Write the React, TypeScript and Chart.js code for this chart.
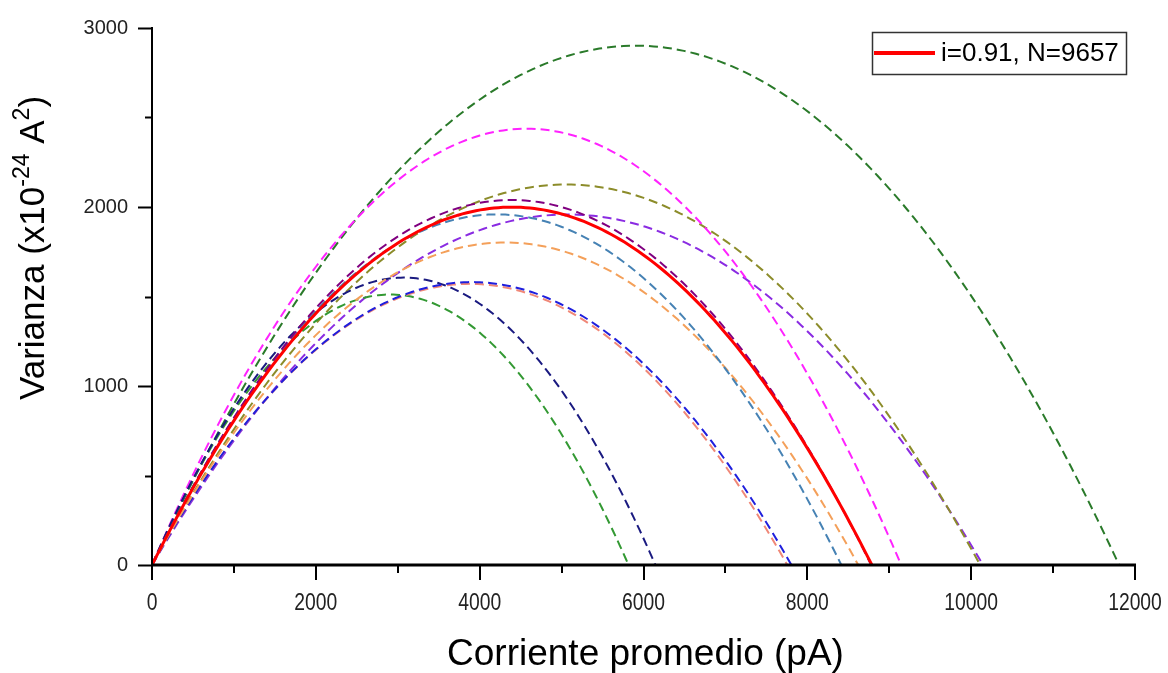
import React, { useEffect, useRef } from "react";
import { Chart, registerables } from "chart.js";

Chart.register(...registerables);

const FONT = '"Liberation Sans", Arial, sans-serif';

// Fitted variance–mean parabolas: var = i·I − I²/N
// i = single-channel current (pA), N = number of channels
const unitCurrents = [0.91, 0.929, 0.931, 0.836, 0.81, 0.81, 1.045, 1.039, 1.066, 0.841, 0.772, 0.983];
const channelCounts = [9657, 9451, 9039, 10313, 9636, 9575, 5881, 5599, 8580, 12021, 13142, 12010];
const seriesColors = [
  "#ff0000",
  "#800080",
  "#4682b4",
  "#f4a05a",
  "#1f1fdd",
  "#f08878",
  "#1a1a80",
  "#339933",
  "#ff22ff",
  "#8c8c2a",
  "#8a2be2",
  "#2a7a2a",
];
const xTickValues = [0, 2000, 4000, 6000, 8000, 10000, 12000];
const yTickValues = [0, 1000, 2000, 3000];
const xMinorStep = 1000;
const yMinorStep = 500;
const xTitle = "Corriente promedio (pA)";

function curvePoints(i: number, n: number) {
  const root = i * n;
  const steps = 160;
  const pts: { x: number; y: number }[] = [];
  for (let k = 0; k <= steps; k++) {
    const cur = (root * k) / steps;
    pts.push({ x: cur, y: Math.max(0, i * cur - (cur * cur) / n) });
  }
  return pts;
}

const axesAndLabels = {
  id: "axesAndLabels",
  afterDraw(chart: any) {
    const { ctx, chartArea: a, scales } = chart;
    const x = scales.x;
    const y = scales.y;
    ctx.save();
    ctx.strokeStyle = "#000";
    ctx.lineCap = "butt";

    // left axis with major / minor ticks
    ctx.lineWidth = 2;
    ctx.beginPath();
    ctx.moveTo(a.left, a.top - 1);
    ctx.lineTo(a.left, a.bottom);
    ctx.stroke();
    for (let v = y.min; v <= y.max; v += yMinorStep) {
      const py = Math.round(y.getPixelForValue(v)) + 0.5;
      const len = yTickValues.includes(v) ? 14 : 7;
      ctx.beginPath();
      ctx.moveTo(a.left - len, py);
      ctx.lineTo(a.left, py);
      ctx.stroke();
    }

    // bottom axis with major / minor ticks
    ctx.lineWidth = 3;
    ctx.beginPath();
    ctx.moveTo(a.left - 1, a.bottom);
    ctx.lineTo(a.right + 1, a.bottom);
    ctx.stroke();
    ctx.lineWidth = 2;
    for (let v = x.min; v <= x.max; v += xMinorStep) {
      const px = Math.round(x.getPixelForValue(v));
      const len = xTickValues.includes(v) ? 15 : 8;
      ctx.beginPath();
      ctx.moveTo(px, a.bottom);
      ctx.lineTo(px, a.bottom + len);
      ctx.stroke();
    }

    // x tick labels (narrow lettering)
    ctx.fillStyle = "#222";
    ctx.font = `23px ${FONT}`;
    ctx.textAlign = "center";
    ctx.textBaseline = "alphabetic";
    for (const v of xTickValues) {
      ctx.save();
      ctx.translate(x.getPixelForValue(v), 610);
      ctx.scale(0.84, 1);
      ctx.fillText(String(v), 0, 0);
      ctx.restore();
    }

    // x axis title
    ctx.fillStyle = "#000";
    ctx.font = `37px ${FONT}`;
    ctx.textAlign = "center";
    ctx.fillText(xTitle, (a.left + a.right) / 2 + 2, 665);

    // y axis title with superscripts
    const parts: [string, boolean][] = [
      ["Varianza (x10", false],
      ["-24", true],
      [" A", false],
      ["2", true],
      [")", false],
    ];
    const mainFont = `35px ${FONT}`;
    const supFont = `23px ${FONT}`;
    let total = 0;
    for (const [t, sup] of parts) {
      ctx.font = sup ? supFont : mainFont;
      total += ctx.measureText(t).width;
    }
    ctx.translate(44, 248);
    ctx.rotate(-Math.PI / 2);
    ctx.textAlign = "left";
    let cx = -total / 2;
    for (const [t, sup] of parts) {
      ctx.font = sup ? supFont : mainFont;
      ctx.fillText(t, cx, sup ? -15 : 0);
      cx += ctx.measureText(t).width;
    }
    ctx.restore();

    // legend for the highlighted fit
    ctx.save();
    ctx.strokeStyle = "#333";
    ctx.lineWidth = 1.5;
    ctx.strokeRect(872.5, 32.5, 254, 42);
    ctx.strokeStyle = seriesColors[0];
    ctx.lineWidth = 4;
    ctx.beginPath();
    ctx.moveTo(874, 53);
    ctx.lineTo(935, 53);
    ctx.stroke();
    ctx.fillStyle = "#000";
    ctx.font = `26px ${FONT}`;
    ctx.textBaseline = "middle";
    ctx.textAlign = "left";
    ctx.fillText(`i=${unitCurrents[0]}, N=${channelCounts[0]}`, 941, 54);
    ctx.restore();
  },
};

export default function App() {
  const canvasRef = useRef<HTMLCanvasElement | null>(null);

  useEffect(() => {
    const canvas = canvasRef.current;
    if (!canvas) return;
    const datasets = unitCurrents.map((i, k) => ({
      label: `i=${i}, N=${channelCounts[k]}`,
      data: curvePoints(i, channelCounts[k]),
      borderColor: seriesColors[k],
      borderWidth: k === 0 ? 3 : 2,
      borderDash: k === 0 ? [] : [9, 5],
      pointRadius: 0,
      fill: false,
      tension: 0,
    }));
    const chart = new Chart(canvas, {
      type: "line",
      data: { datasets },
      options: {
        animation: false,
        responsive: false,
        layout: { padding: { top: 17, right: 33, left: 0, bottom: 0 } },
        plugins: { legend: { display: false }, tooltip: { enabled: false } },
        scales: {
          x: {
            type: "linear",
            min: 0,
            max: 12000,
            afterBuildTicks: (s: any) => {
              s.ticks = xTickValues.map((v) => ({ value: v }));
            },
            afterFit: (s: any) => {
              s.height = 108;
            },
            grid: { display: false },
            border: { display: false },
            ticks: {
              display: false,
              maxRotation: 0,
            },
          },
          y: {
            type: "linear",
            min: 0,
            max: 3000,
            afterBuildTicks: (s: any) => {
              s.ticks = yTickValues.map((v) => ({ value: v }));
            },
            afterFit: (s: any) => {
              s.width = 152;
            },
            grid: { display: false },
            border: { display: false },
            ticks: {
              padding: 16,
              color: "#222",
              font: { family: FONT, size: 20 },
              callback: (v: any) => String(v),
            },
          },
        },
      },
      plugins: [axesAndLabels],
    });
    return () => chart.destroy();
  }, []);

  return (
    <div style={{ position: "fixed", left: 0, top: 0, width: 1168, height: 673, background: "#fff" }}>
      <canvas ref={canvasRef} width={1168} height={673} />
    </div>
  );
}
